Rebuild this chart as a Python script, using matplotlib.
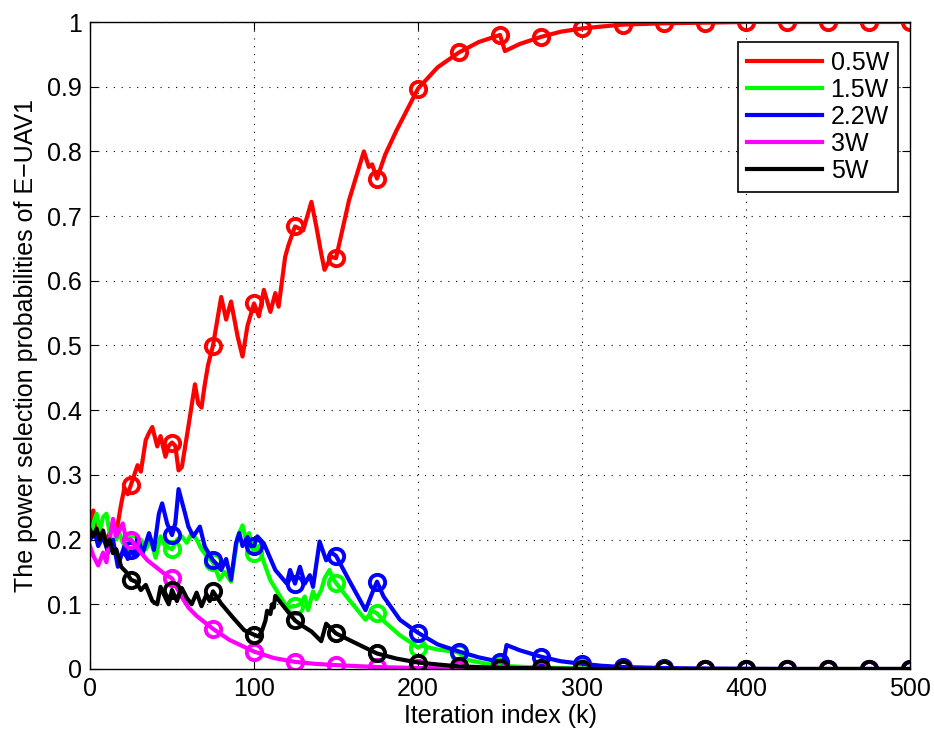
import matplotlib
matplotlib.use('Agg')
import matplotlib.pyplot as plt
from matplotlib.ticker import MultipleLocator, FormatStrFormatter

plt.rcParams['font.family'] = ['Liberation Sans', 'DejaVu Sans']

# power levels of E-UAV1
labels = ['0.5W', '1.5W', '2.2W', '3W', '5W']
colors = ['#ff0000', '#00ff00', '#0000ff', '#ff00ff', '#000000']

# selection probability of each power level vs. iteration index
k_05 = [0, 2, 4, 7, 10, 13, 16, 19, 21, 23, 25, 27, 29, 31, 34, 36, 38, 41, 43, 46, 48,
        50, 52, 54, 56, 60, 64, 66, 68, 70, 72, 75, 77, 80, 83, 86, 90, 93, 96,
        100, 103, 106, 110, 113, 115, 119, 121, 125, 130, 135, 138, 141, 143, 147,
        150, 158, 167, 170, 172, 175, 180, 187, 200, 212, 225, 237, 250, 253, 262,
        275, 287, 300, 312, 325, 350, 375, 400, 425, 450, 475, 500]
p_05 = [0.21, 0.245, 0.22, 0.215, 0.2, 0.215, 0.21, 0.255, 0.28, 0.27, 0.285, 0.3, 0.315, 0.305, 0.354, 0.365, 0.374, 0.344, 0.36, 0.328, 0.345,
        0.35, 0.345, 0.307, 0.312, 0.375, 0.44, 0.41, 0.404, 0.44, 0.47, 0.5, 0.53, 0.575, 0.54, 0.568, 0.514, 0.483, 0.53,
        0.565, 0.545, 0.586, 0.552, 0.581, 0.56, 0.637, 0.655, 0.684, 0.678, 0.722, 0.684, 0.642, 0.617, 0.637,
        0.635, 0.725, 0.8, 0.776, 0.78, 0.758, 0.795, 0.833, 0.897, 0.93, 0.953, 0.969, 0.98, 0.955, 0.966,
        0.977, 0.985, 0.99, 0.993, 0.996, 0.998, 0.999, 1.0, 1.0, 1.0, 1.0, 1.0]

k_15 = [0, 2, 4, 6, 8, 10, 12, 14, 16, 18, 20, 22, 25, 28, 31, 34, 37, 40, 43, 46,
        50, 53, 56, 59, 62, 65, 68, 71, 75, 79, 82, 86, 90, 93, 95, 97,
        100, 103, 106, 110, 116, 120, 125, 128, 131, 133, 136, 138, 141, 143, 146, 148,
        150, 158, 168, 172, 175, 180, 189, 195, 200, 202, 212, 222, 225, 230, 242,
        250, 275, 300, 325, 350, 375, 400, 425, 450, 475, 500]
p_15 = [0.2, 0.225, 0.24, 0.215, 0.235, 0.24, 0.21, 0.22, 0.2, 0.21, 0.195, 0.205, 0.195, 0.19, 0.2, 0.185, 0.2, 0.172, 0.205, 0.19,
        0.185, 0.2, 0.205, 0.195, 0.21, 0.2, 0.185, 0.175, 0.165, 0.138, 0.15, 0.135, 0.204, 0.222, 0.2, 0.21,
        0.18, 0.19, 0.165, 0.137, 0.112, 0.096, 0.097, 0.1, 0.112, 0.091, 0.12, 0.108, 0.122, 0.14, 0.153, 0.14,
        0.133, 0.107, 0.076, 0.09, 0.086, 0.072, 0.052, 0.042, 0.033, 0.036, 0.03, 0.027, 0.025, 0.014, 0.008,
        0.005, 0.002, 0.001, 0.0, 0.0, 0.0, 0.0, 0.0, 0.0, 0.0, 0.0]

k_22 = [0, 3, 5, 8, 11, 14, 17, 19, 21, 23, 25, 27, 29, 32, 36, 39, 42, 44, 47,
        50, 52, 54, 58, 60, 63, 67, 70, 75, 78, 80, 83, 86, 89, 91, 93, 96, 98,
        100, 102, 106, 113, 120, 122, 125, 128, 131, 134, 136, 140, 144, 147,
        150, 158, 168, 172, 175, 179, 189, 200, 212, 225, 237, 250, 252, 254, 262,
        275, 287, 300, 312, 325, 350, 375, 400, 425, 450, 475, 500]
p_22 = [0.2, 0.21, 0.19, 0.205, 0.18, 0.2, 0.158, 0.175, 0.19, 0.17, 0.184, 0.175, 0.205, 0.178, 0.21, 0.184, 0.24, 0.256, 0.225,
        0.207, 0.225, 0.278, 0.24, 0.22, 0.205, 0.22, 0.189, 0.168, 0.16, 0.153, 0.17, 0.138, 0.194, 0.21, 0.19, 0.204, 0.19,
        0.19, 0.205, 0.194, 0.153, 0.132, 0.153, 0.132, 0.158, 0.132, 0.145, 0.127, 0.197, 0.168, 0.18,
        0.175, 0.137, 0.091, 0.117, 0.135, 0.112, 0.076, 0.056, 0.038, 0.027, 0.018, 0.011, 0.01, 0.037, 0.029,
        0.019, 0.012, 0.008, 0.005, 0.003, 0.0015, 0.0007, 0.0003, 0.0, 0.0, 0.0, 0.0]

k_3 = [0, 2, 5, 8, 10, 12, 14, 16, 18, 20, 22, 25, 28, 31, 35, 40, 45,
       50, 55, 60, 65, 70, 75, 85, 100, 112, 125, 137, 150, 175, 200, 225,
       250, 275, 300, 325, 350, 375, 400, 425, 450, 475, 500]
p_3 = [0.19, 0.175, 0.16, 0.18, 0.165, 0.2, 0.232, 0.205, 0.215, 0.225, 0.2, 0.2, 0.19, 0.18, 0.168, 0.158, 0.148,
       0.14, 0.115, 0.095, 0.082, 0.072, 0.062, 0.045, 0.027, 0.017, 0.011, 0.008, 0.006, 0.003, 0.0015, 0.0007,
       0.0003, 0.0, 0.0, 0.0, 0.0, 0.0, 0.0, 0.0, 0.0, 0.0, 0.0]

k_5 = [0, 2, 4, 6, 8, 10, 12, 14, 16, 19, 22, 25, 28, 31, 34, 38, 41, 43, 46, 48,
       50, 53, 56, 59, 62, 65, 68, 71, 73, 75, 80, 87, 94, 100, 103, 105, 107, 108, 110,
       111, 112, 113, 119, 125, 130, 135, 141, 144, 150, 162, 175, 187, 200, 212, 225,
       250, 275, 300, 325, 350, 375, 400, 425, 450, 475, 500]
p_5 = [0.215, 0.205, 0.217, 0.2, 0.214, 0.19, 0.2, 0.179, 0.185, 0.158, 0.15, 0.138, 0.135, 0.122, 0.13, 0.105, 0.1, 0.127, 0.11, 0.1,
       0.122, 0.105, 0.125, 0.11, 0.1, 0.118, 0.097, 0.115, 0.105, 0.12, 0.101, 0.08, 0.06, 0.053, 0.05, 0.06, 0.075, 0.09, 0.085,
       0.1, 0.095, 0.113, 0.094, 0.075, 0.066, 0.058, 0.043, 0.07, 0.055, 0.04, 0.024, 0.016, 0.01, 0.007, 0.004,
       0.002, 0.001, 0.0, 0.0, 0.0, 0.0, 0.0, 0.0, 0.0, 0.0, 0.0]

series = [(k_05, p_05), (k_15, p_15), (k_22, p_22), (k_3, p_3), (k_5, p_5)]

fig = plt.figure(figsize=(9.34, 7.38), dpi=100)
ax = fig.add_axes([90 / 934, 1 - 669 / 738, 820 / 934, 647 / 738])

for (k, p), c, lab in zip(series, colors, labels):
    ax.plot(k, p, color=c, lw=3.0, label=lab)
    # circle every 25 iterations
    idx = [i for i, x in enumerate(k) if x % 25 == 0 and x > 0]
    ax.plot(k, p, ls='none', marker='o', mfc='none', mec=c, ms=11, mew=2.8, markevery=idx)

ax.set_xlim(0, 500)
ax.set_ylim(0, 1)
ax.xaxis.set_major_locator(MultipleLocator(100))
ax.yaxis.set_major_locator(MultipleLocator(0.1))
ax.yaxis.set_major_formatter(FormatStrFormatter('%g'))
ax.tick_params(direction='in', top=True, right=True, length=6, width=0.8, labelsize=18, pad=6)
ax.grid(True, linestyle=(0, (1, 6)), color='k', lw=0.8)
for s in ax.spines.values():
    s.set_linewidth(1.0)

ax.set_xlabel('Iteration index (k)', fontsize=18, labelpad=2)
ax.set_ylabel('The power selection probabilities of E\u2212UAV1', fontsize=18, labelpad=6)

leg = ax.legend(loc='upper right', bbox_to_anchor=(0.985, 0.969), borderaxespad=0, fontsize=18,
                fancybox=False, framealpha=1, edgecolor='k', handlelength=3.0, handletextpad=0.35,
                labelspacing=0.12, borderpad=0.35)
leg.get_frame().set_linewidth(1.2)

plt.savefig('out.png', dpi=100)
